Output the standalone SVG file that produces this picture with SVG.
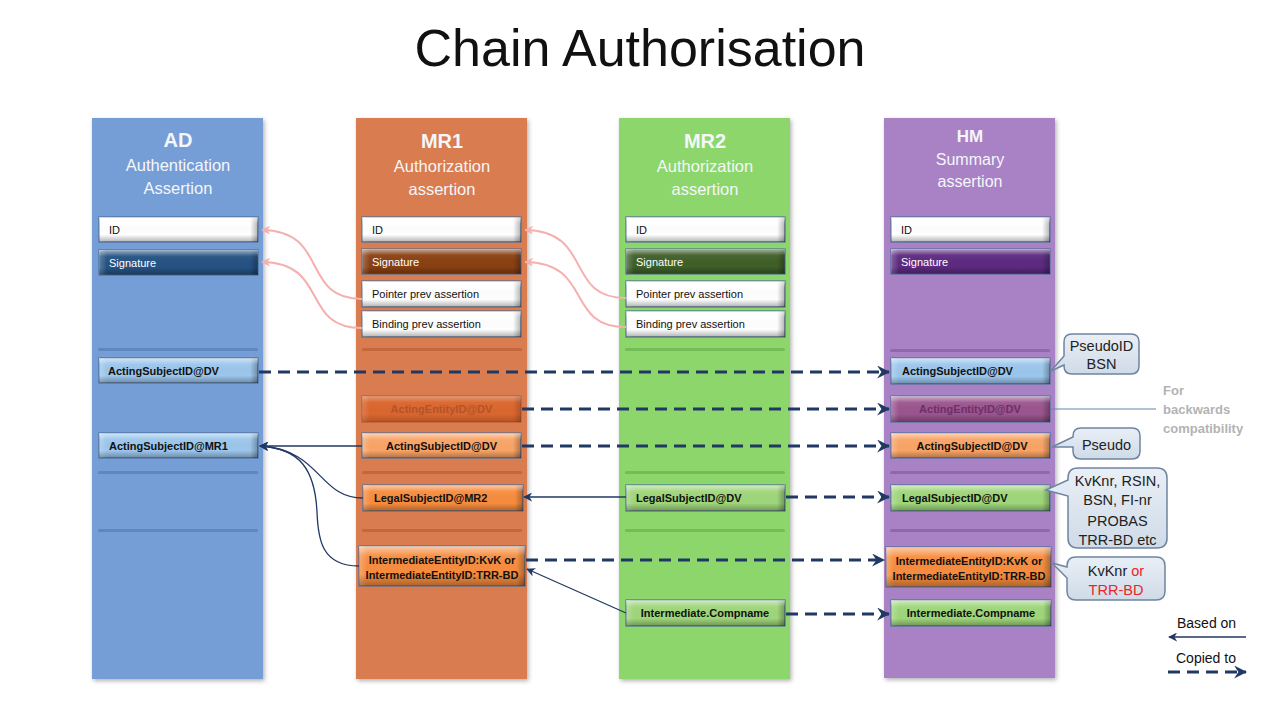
<svg xmlns="http://www.w3.org/2000/svg" width="1280" height="720" viewBox="0 0 1280 720">
<defs>
  <style>
    .t{font-family:"Liberation Sans",Arial,sans-serif}
    .hd{font-family:"Liberation Sans",Arial,sans-serif;fill:#f4f6fa;text-anchor:middle}
    .lbl{font-family:"Liberation Sans",Arial,sans-serif;font-size:11px;fill:#111}
    .b{font-weight:bold}
    .c{text-anchor:middle}
    .w{fill:#ffffff}
    .bx{stroke:#4f6f98;stroke-width:1.2}
    .bar{opacity:0.55}
    .dash{fill:none;stroke:#1f3864;stroke-width:3;stroke-dasharray:12 7}
    .solid{fill:none;stroke:#1f3864;stroke-width:1.3}
    .pink{fill:none;stroke:#f5b0ae;stroke-width:2}
    .call{fill:url(#callg);stroke:#6f84a0;stroke-width:1.5}
    .ct{font-family:"Liberation Sans",Arial,sans-serif;font-size:14.5px;fill:#222;text-anchor:middle}
  </style>
  <linearGradient id="bev" x1="0" y1="0" x2="0" y2="1">
    <stop offset="0" stop-color="#fff" stop-opacity="0.55"/>
    <stop offset="0.25" stop-color="#fff" stop-opacity="0.05"/>
    <stop offset="0.7" stop-color="#000" stop-opacity="0"/>
    <stop offset="1" stop-color="#000" stop-opacity="0.3"/>
  </linearGradient>
  <linearGradient id="bevh" x1="0" y1="0" x2="1" y2="0">
    <stop offset="0" stop-color="#fff" stop-opacity="0.25"/>
    <stop offset="0.05" stop-color="#fff" stop-opacity="0"/>
    <stop offset="0.95" stop-color="#000" stop-opacity="0"/>
    <stop offset="1" stop-color="#000" stop-opacity="0.3"/>
  </linearGradient>
  <linearGradient id="callg" x1="0" y1="0" x2="0" y2="1">
    <stop offset="0" stop-color="#e9eff6"/>
    <stop offset="1" stop-color="#cfdbe8"/>
  </linearGradient>
  <filter id="sh" x="-10%" y="-5%" width="120%" height="110%">
    <feDropShadow dx="1.5" dy="2" stdDeviation="2" flood-color="#000" flood-opacity="0.3"/>
  </filter>
  <marker id="aDash" viewBox="0 0 12 12" refX="11" refY="6" markerWidth="13" markerHeight="13" orient="auto" markerUnits="userSpaceOnUse">
    <path d="M0,0 L12,6 L0,12 L4,6 z" fill="#1f3864"/>
  </marker>
  <marker id="aSolid" viewBox="0 0 10 10" refX="9" refY="5" markerWidth="9" markerHeight="9" orient="auto" markerUnits="userSpaceOnUse">
    <path d="M0,0 L10,5 L0,10 L3,5 z" fill="#1f3864"/>
  </marker>
  <marker id="aPink" viewBox="0 0 10 10" refX="9" refY="5" markerWidth="9" markerHeight="9" orient="auto" markerUnits="userSpaceOnUse">
    <path d="M0,0 L10,5 L0,10 L3,5 z" fill="#f5b0ae"/>
  </marker>
</defs>

<rect width="1280" height="720" fill="#ffffff"/>

<text class="t" x="640" y="66" font-size="52" text-anchor="middle" fill="#111">Chain Authorisation</text>

<!-- Columns -->
<g id="col-AD">
  <rect x="92" y="118" width="171" height="561" fill="#749ed7" filter="url(#sh)"/>
  <text class="hd b" x="178" y="147" font-size="20">AD</text>
  <text class="hd" x="178" y="171" font-size="16.5">Authentication</text>
  <text class="hd" x="178" y="194" font-size="16.5">Assertion</text>
  <rect class="bar" x="98" y="348" width="160" height="3" rx="1.5" fill="#4a73ad"/>
  <rect class="bar" x="98" y="471" width="160" height="3" rx="1.5" fill="#4a73ad"/>
  <rect class="bar" x="98" y="529" width="160" height="3" rx="1.5" fill="#4a73ad"/>
</g>
<g id="col-MR1">
  <rect x="356" y="118" width="171" height="561" fill="#d97b50" filter="url(#sh)"/>
  <text class="hd b" x="442" y="148" font-size="20">MR1</text>
  <text class="hd" x="442" y="172" font-size="16.5">Authorization</text>
  <text class="hd" x="442" y="195" font-size="16.5">assertion</text>
  <rect class="bar" x="362" y="348" width="160" height="3" rx="1.5" fill="#b05530"/>
  <rect class="bar" x="362" y="471" width="160" height="3" rx="1.5" fill="#b05530"/>
  <rect class="bar" x="362" y="529" width="160" height="3" rx="1.5" fill="#b05530"/>
</g>
<g id="col-MR2">
  <rect x="619" y="118" width="171" height="561" fill="#8cd66c" filter="url(#sh)"/>
  <text class="hd b" x="705" y="148" font-size="20">MR2</text>
  <text class="hd" x="705" y="172" font-size="16.5">Authorization</text>
  <text class="hd" x="705" y="195" font-size="16.5">assertion</text>
  <rect class="bar" x="625" y="348" width="160" height="3" rx="1.5" fill="#5fa845"/>
  <rect class="bar" x="625" y="471" width="160" height="3" rx="1.5" fill="#5fa845"/>
  <rect class="bar" x="625" y="529" width="160" height="3" rx="1.5" fill="#5fa845"/>
</g>
<g id="col-HM">
  <rect x="884" y="118" width="171" height="560" fill="#a982c6" filter="url(#sh)"/>
  <text class="hd b" x="970" y="142" font-size="17">HM</text>
  <text class="hd" x="970" y="165" font-size="16">Summary</text>
  <text class="hd" x="970" y="187" font-size="16">assertion</text>
  <rect class="bar" x="890" y="349" width="160" height="3" rx="1.5" fill="#7a529a"/>
  <rect class="bar" x="890" y="471" width="160" height="3" rx="1.5" fill="#7a529a"/>
  <rect class="bar" x="890" y="529" width="160" height="3" rx="1.5" fill="#7a529a"/>
</g>

<!-- AD boxes -->
<g id="ad-id"><rect class="bx" x="99" y="217" width="159" height="25" fill="#ffffff"/><rect x="99" y="217" width="159" height="25" fill="url(#bevh)"/><rect x="99" y="217" width="159" height="25" fill="url(#bev)"/><text class="lbl" x="109" y="233.5">ID</text></g>
<g id="ad-sig"><rect class="bx" x="99" y="250" width="159" height="25" fill="#245283"/><rect x="99" y="250" width="159" height="25" fill="url(#bevh)"/><rect x="99" y="250" width="159" height="25" fill="url(#bev)"/><text class="lbl w" x="109" y="266.5">Signature</text></g>
<g id="ad-asdv"><rect class="bx" x="99" y="358" width="159" height="25" fill="#9cc6ec"/><rect x="99" y="358" width="159" height="25" fill="url(#bevh)"/><rect x="99" y="358" width="159" height="25" fill="url(#bev)"/><text class="lbl b" x="108" y="374.5">ActingSubjectID@DV</text></g>
<g id="ad-asmr1"><rect class="bx" x="99" y="433" width="159" height="25" fill="#9cc6ec"/><rect x="99" y="433" width="159" height="25" fill="url(#bevh)"/><rect x="99" y="433" width="159" height="25" fill="url(#bev)"/><text class="lbl b" x="109" y="449.5">ActingSubjectID@MR1</text></g>

<!-- MR1 boxes -->
<g id="mr1-id"><rect class="bx" x="362" y="217" width="159" height="25" fill="#ffffff"/><rect x="362" y="217" width="159" height="25" fill="url(#bevh)"/><rect x="362" y="217" width="159" height="25" fill="url(#bev)"/><text class="lbl" x="372" y="233.5">ID</text></g>
<g id="mr1-sig"><rect class="bx" x="362" y="249" width="159" height="25" fill="#8a4012"/><rect x="362" y="249" width="159" height="25" fill="url(#bevh)"/><rect x="362" y="249" width="159" height="25" fill="url(#bev)"/><text class="lbl w" x="372" y="265.5">Signature</text></g>
<g id="mr1-ptr"><rect class="bx" x="362" y="281" width="159" height="26" fill="#ffffff"/><rect x="362" y="281" width="159" height="26" fill="url(#bevh)"/><rect x="362" y="281" width="159" height="26" fill="url(#bev)"/><text class="lbl" x="372" y="298">Pointer prev assertion</text></g>
<g id="mr1-bind"><rect class="bx" x="362" y="311" width="159" height="26" fill="#ffffff"/><rect x="362" y="311" width="159" height="26" fill="url(#bevh)"/><rect x="362" y="311" width="159" height="26" fill="url(#bev)"/><text class="lbl" x="372" y="328">Binding prev assertion</text></g>
<g id="mr1-aedv"><rect x="362" y="396" width="159" height="26" fill="#da662e" stroke="#c2592a" stroke-width="1.2"/><rect x="362" y="396" width="159" height="26" fill="url(#bevh)" opacity="0.6"/><rect x="362" y="396" width="159" height="26" fill="url(#bev)" opacity="0.6"/><text class="lbl b c" x="441.5" y="413" style="fill:#b3532a">ActingEntityID@DV</text></g>
<g id="mr1-asdv"><rect class="bx" x="362" y="433" width="159" height="25" fill="#f9a466"/><rect x="362" y="433" width="159" height="25" fill="url(#bevh)"/><rect x="362" y="433" width="159" height="25" fill="url(#bev)"/><text class="lbl b c" x="441.5" y="449.5">ActingSubjectID@DV</text></g>
<g id="mr1-lsmr2"><rect class="bx" x="363" y="485" width="160" height="26" fill="#f78c3e"/><rect x="363" y="485" width="160" height="26" fill="url(#bevh)"/><rect x="363" y="485" width="160" height="26" fill="url(#bev)"/><text class="lbl b" x="374" y="502">LegalSubjectID@MR2</text></g>
<g id="mr1-inter"><rect class="bx" x="359" y="546" width="166" height="40" fill="#f78c3e"/><rect x="359" y="546" width="166" height="40" fill="url(#bevh)"/><rect x="359" y="546" width="166" height="40" fill="url(#bev)"/><text class="lbl b c" x="442" y="563.5">IntermediateEntityID:KvK or</text><text class="lbl b c" x="442" y="578.5">IntermediateEntityID:TRR-BD</text></g>

<!-- MR2 boxes -->
<g id="mr2-id"><rect class="bx" x="626" y="217" width="159" height="25" fill="#ffffff"/><rect x="626" y="217" width="159" height="25" fill="url(#bevh)"/><rect x="626" y="217" width="159" height="25" fill="url(#bev)"/><text class="lbl" x="636" y="233.5">ID</text></g>
<g id="mr2-sig"><rect class="bx" x="626" y="249" width="159" height="25" fill="#3f5f28"/><rect x="626" y="249" width="159" height="25" fill="url(#bevh)"/><rect x="626" y="249" width="159" height="25" fill="url(#bev)"/><text class="lbl w" x="636" y="265.5">Signature</text></g>
<g id="mr2-ptr"><rect class="bx" x="626" y="281" width="159" height="26" fill="#ffffff"/><rect x="626" y="281" width="159" height="26" fill="url(#bevh)"/><rect x="626" y="281" width="159" height="26" fill="url(#bev)"/><text class="lbl" x="636" y="298">Pointer prev assertion</text></g>
<g id="mr2-bind"><rect class="bx" x="626" y="311" width="159" height="26" fill="#ffffff"/><rect x="626" y="311" width="159" height="26" fill="url(#bevh)"/><rect x="626" y="311" width="159" height="26" fill="url(#bev)"/><text class="lbl" x="636" y="328">Binding prev assertion</text></g>
<g id="mr2-lsdv"><rect class="bx" x="626" y="485" width="159" height="26" fill="#9fd67a"/><rect x="626" y="485" width="159" height="26" fill="url(#bevh)"/><rect x="626" y="485" width="159" height="26" fill="url(#bev)"/><text class="lbl b" x="636" y="502">LegalSubjectID@DV</text></g>
<g id="mr2-comp"><rect class="bx" x="626" y="600" width="159" height="26" fill="#9fd67a"/><rect x="626" y="600" width="159" height="26" fill="url(#bevh)"/><rect x="626" y="600" width="159" height="26" fill="url(#bev)"/><text class="lbl b c" x="705" y="617" font-size="11.5">Intermediate.Compname</text></g>

<!-- HM boxes -->
<g id="hm-id"><rect class="bx" x="891" y="217" width="159" height="25" fill="#ffffff"/><rect x="891" y="217" width="159" height="25" fill="url(#bevh)"/><rect x="891" y="217" width="159" height="25" fill="url(#bev)"/><text class="lbl" x="901" y="233.5">ID</text></g>
<g id="hm-sig"><rect class="bx" x="891" y="249" width="159" height="25" fill="#5c2a80"/><rect x="891" y="249" width="159" height="25" fill="url(#bevh)"/><rect x="891" y="249" width="159" height="25" fill="url(#bev)"/><text class="lbl w" x="901" y="265.5">Signature</text></g>
<g id="hm-asdv1"><rect class="bx" x="891" y="358" width="159" height="26" fill="#9cc6ec"/><rect x="891" y="358" width="159" height="26" fill="url(#bevh)"/><rect x="891" y="358" width="159" height="26" fill="url(#bev)"/><text class="lbl b" x="902" y="375">ActingSubjectID@DV</text></g>
<g id="hm-aedv"><rect class="bx" x="891" y="396" width="159" height="26" fill="#9a558e"/><rect x="891" y="396" width="159" height="26" fill="url(#bevh)"/><rect x="891" y="396" width="159" height="26" fill="url(#bev)"/><text class="lbl b c" x="970" y="413" style="fill:#6e2f68">ActingEntityID@DV</text></g>
<g id="hm-asdv2"><rect class="bx" x="891" y="433" width="159" height="25" fill="#f9a466"/><rect x="891" y="433" width="159" height="25" fill="url(#bevh)"/><rect x="891" y="433" width="159" height="25" fill="url(#bev)"/><text class="lbl b c" x="972" y="449.5">ActingSubjectID@DV</text></g>
<g id="hm-lsdv"><rect class="bx" x="891" y="485" width="159" height="26" fill="#9fd67a"/><rect x="891" y="485" width="159" height="26" fill="url(#bevh)"/><rect x="891" y="485" width="159" height="26" fill="url(#bev)"/><text class="lbl b" x="902" y="502">LegalSubjectID@DV</text></g>
<g id="hm-inter"><rect class="bx" x="886" y="547" width="165" height="40" fill="#f78c3e"/><rect x="886" y="547" width="165" height="40" fill="url(#bevh)"/><rect x="886" y="547" width="165" height="40" fill="url(#bev)"/><text class="lbl b c" x="969" y="564.5">IntermediateEntityID:KvK or</text><text class="lbl b c" x="969" y="579.5">IntermediateEntityID:TRR-BD</text></g>
<g id="hm-comp"><rect class="bx" x="891" y="600" width="160" height="26" fill="#9fd67a"/><rect x="891" y="600" width="160" height="26" fill="url(#bevh)"/><rect x="891" y="600" width="160" height="26" fill="url(#bev)"/><text class="lbl b c" x="971" y="617" font-size="11.5">Intermediate.Compname</text></g>

<!-- Callouts -->
<g id="call-pseudoid">
  <path class="call" d="M1072,334 H1131 Q1139,334 1139,342 V366 Q1139,374 1131,374 H1072 Q1064,374 1064,366 V365 L1051,371 L1064,356 V342 Q1064,334 1072,334 Z"/>
  <text class="ct" x="1101.5" y="351">PseudoID</text>
  <text class="ct" x="1101.5" y="369">BSN</text>
</g>
<g id="call-pseudo">
  <path class="call" d="M1081,428 H1132 Q1140,428 1140,436 V451 Q1140,459 1132,459 H1081 Q1073,459 1073,451 V447 L1052,447 L1073,437 V436 Q1073,428 1081,428 Z"/>
  <text class="ct" x="1106.5" y="449.5">Pseudo</text>
</g>
<g id="call-kvk">
  <path class="call" d="M1078,468 H1157 Q1167,468 1167,478 V538 Q1167,548 1157,548 H1078 Q1068,548 1068,538 V496 L1046,490 L1068,480 V478 Q1068,468 1078,468 Z"/>
  <text class="ct" x="1117.5" y="486">KvKnr, RSIN,</text>
  <text class="ct" x="1117.5" y="505">BSN, FI-nr</text>
  <text class="ct" x="1117.5" y="526">PROBAS</text>
  <text class="ct" x="1117.5" y="545">TRR-BD etc</text>
</g>
<g id="call-kvkor">
  <path class="call" d="M1076,557 H1156 Q1165,557 1165,566 V591 Q1165,600 1156,600 H1076 Q1067,600 1067,591 V578 L1052,563 L1067,567 V566 Q1067,557 1076,557 Z"/>
  <text class="ct" x="1116" y="576">KvKnr <tspan fill="#e8262a">or</tspan></text>
  <text class="ct" x="1116" y="595" style="fill:#e8262a">TRR-BD</text>
</g>

<g id="note-backwards">
  <line x1="1051" y1="409" x2="1156" y2="409" stroke="#5a87b0" stroke-width="1"/>
  <text class="t b" x="1163" y="395" font-size="13" fill="#b3b3b3">For</text>
  <text class="t b" x="1163" y="414" font-size="13" fill="#b3b3b3">backwards</text>
  <text class="t b" x="1163" y="433" font-size="13" fill="#b3b3b3">compatibility</text>
</g>

<!-- Connectors -->
<g id="connectors">
  <path class="pink" d="M362,299 C300,299 330,231 262,230" marker-end="url(#aPink)"/>
  <path class="pink" d="M362,328 C300,328 330,263 262,262" marker-end="url(#aPink)"/>
  <path class="pink" d="M626,298 C564,298 594,231 525,230" marker-end="url(#aPink)"/>
  <path class="pink" d="M626,327 C564,327 594,263 525,262" marker-end="url(#aPink)"/>

  <path class="dash" d="M259,372 H889" marker-end="url(#aDash)"/>
  <path class="dash" d="M522,409 H889" marker-end="url(#aDash)"/>
  <path class="dash" d="M522,446 H889" marker-end="url(#aDash)"/>
  <path class="dash" d="M786,497 H889" marker-end="url(#aDash)"/>
  <path class="dash" d="M526,560 H884" marker-end="url(#aDash)"/>
  <path class="dash" d="M786,614 H889" marker-end="url(#aDash)"/>

  <path class="solid" d="M362,446 H260" marker-end="url(#aSolid)"/>
  <path class="solid" d="M363,498 C318,498 322,450 260,446" marker-end="url(#aSolid)"/>
  <path class="solid" d="M359,566 C322,566 318,540 317,512 C315,470 300,448 260,446" marker-end="url(#aSolid)"/>
  <path class="solid" d="M626,497 H524" marker-end="url(#aSolid)"/>
  <path class="solid" d="M626,613 L527,569" marker-end="url(#aSolid)"/>
</g>

<!-- Legend -->
<g id="legend">
  <text class="t" x="1177" y="628" font-size="14" fill="#111">Based on</text>
  <path class="solid" d="M1246,637 H1169" marker-end="url(#aSolid)"/>
  <text class="t" x="1176" y="663" font-size="14" fill="#111">Copied to</text>
  <path class="dash" d="M1168,672 H1246" marker-end="url(#aDash)"/>
</g>
</svg>
